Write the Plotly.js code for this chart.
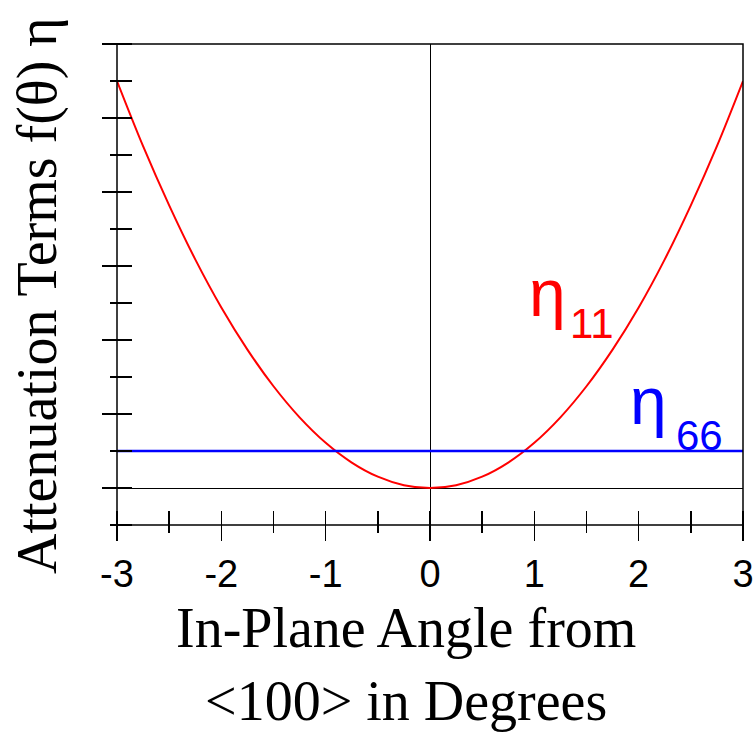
<!DOCTYPE html>
<html>
<head>
<meta charset="utf-8">
<script src="https://cdn.plot.ly/plotly-3.0.1.min.js"></script>
<style>html,body{margin:0;padding:0;background:#fff;}</style>
</head>
<body>
<div id="chart" style="width:755px;height:736px;"></div>
<script>
// Data
var angleDeg = [-3, -2.75, -2.5, -2.25, -2, -1.75, -1.5, -1.25, -1, -0.75, -0.5, -0.25, 0, 0.25, 0.5, 0.75, 1, 1.25, 1.5, 1.75, 2, 2.25, 2.5, 2.75, 3];
var eta11 = [5.5, 4.62, 3.82, 3.09, 2.44, 1.87, 1.375, 0.955, 0.611, 0.344, 0.153, 0.038, 0, 0.038, 0.153, 0.344, 0.611, 0.955, 1.375, 1.87, 2.44, 3.09, 3.82, 4.62, 5.5];
var eta66X = [-3, 3];
var eta66 = [0.5, 0.5];
var xTickVals = [-3, -2, -1, 0, 1, 2, 3];
var xTickText = ['-3', '-2', '-1', '0', '1', '2', '3'];
var xMinorVals = [-2.5, -1.5, -0.5, 0.5, 1.5, 2.5];
var yTickVals = [0, 1, 2, 3, 4, 5, 6];
var yMinorVals = [-0.5, 0.5, 1.5, 2.5, 3.5, 4.5, 5.5];
var xTitle = 'In-Plane Angle from<br>&lt;100&gt; in Degrees';
var yTitle = 'Attenuation Terms f(θ) η';
var etaSymbol = 'η';
var sub11 = '11';
var sub66 = '66';

var traces = [
  {x: angleDeg, y: eta11, mode: 'lines', line: {color: '#ff0000', width: 2, shape: 'spline'}},
  {x: eta66X, y: eta66, mode: 'lines', line: {color: '#0000ff', width: 2.5}}
];

var layout = {
  width: 755, height: 736, autosize: false,
  margin: {l: 117, r: 12, t: 44, b: 211},
  paper_bgcolor: '#fff', plot_bgcolor: '#fff',
  showlegend: false,
  // axes are shifted 15px into the plot so the long outside ticks cross the frame
  xaxis: {
    range: [-3, 3], tickmode: 'array', tickvals: xTickVals, ticktext: xTickText,
    anchor: 'free', position: 15 / 481,
    ticks: 'outside', ticklen: 30, tickwidth: 1.5, tickcolor: '#000',
    showline: false, showgrid: false, zeroline: true, zerolinecolor: '#000', zerolinewidth: 1,
    tickfont: {family: 'Liberation Sans, Arial, sans-serif', size: 38, color: '#000'},
    minor: {tickmode: 'array', tickvals: xMinorVals, ticks: 'outside', ticklen: 22, tickwidth: 1.5, tickcolor: '#000', showgrid: false}
  },
  yaxis: {
    range: [-0.5, 6], tickmode: 'array', tickvals: yTickVals, showticklabels: false,
    anchor: 'free', position: 15 / 626,
    ticks: 'outside', ticklen: 30, tickwidth: 1.5, tickcolor: '#000',
    showline: false, showgrid: false, zeroline: true, zerolinecolor: '#000', zerolinewidth: 1,
    minor: {tickmode: 'array', tickvals: yMinorVals, ticks: 'outside', ticklen: 22, tickwidth: 1.5, tickcolor: '#000', showgrid: false}
  },
  shapes: [
    {type: 'rect', xref: 'paper', yref: 'paper', x0: 0, x1: 1, y0: 0, y1: 1, line: {color: '#000', width: 1.5}, fillcolor: 'rgba(0,0,0,0)'}
  ],
  annotations: [
    {text: etaSymbol, xref: 'x', yref: 'y', x: 0.93, y: 2.11, xanchor: 'left', yanchor: 'bottom', showarrow: false,
     font: {family: 'Liberation Sans, Arial, sans-serif', size: 66, color: '#ff0000'}},
    {text: sub11, xref: 'x', yref: 'y', x: 1.32, y: 1.878, xanchor: 'left', yanchor: 'bottom', showarrow: false,
     font: {family: 'Liberation Sans, Arial, sans-serif', size: 42, color: '#ff0000'}},
    {text: etaSymbol, xref: 'x', yref: 'y', x: 1.90, y: 0.65, xanchor: 'left', yanchor: 'bottom', showarrow: false,
     font: {family: 'Liberation Sans, Arial, sans-serif', size: 66, color: '#0000ff'}},
    {text: sub66, xref: 'x', yref: 'y', x: 2.34, y: 0.365, xanchor: 'left', yanchor: 'bottom', showarrow: false,
     font: {family: 'Liberation Sans, Arial, sans-serif', size: 42, color: '#0000ff'}},
    {text: xTitle, xref: 'paper', yref: 'paper', x: 0.4617, y: -0.1455, xanchor: 'center', yanchor: 'top', showarrow: false,
     font: {family: 'Liberation Serif, Times New Roman, serif', size: 56, color: '#000'}},
    {text: yTitle, xref: 'paper', yref: 'paper', x: -0.128, y: 0.478, xanchor: 'center', yanchor: 'middle', textangle: -90, showarrow: false,
     font: {family: 'Liberation Serif, Times New Roman, serif', size: 56, color: '#000'}}
  ]
};

Plotly.newPlot('chart', traces, layout, {staticPlot: true, displayModeBar: false});
</script>
</body>
</html>
